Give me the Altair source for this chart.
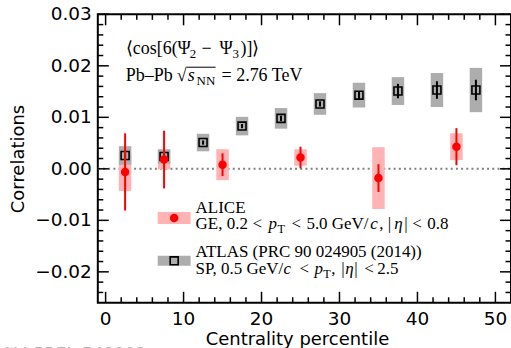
import altair as alt
import pandas as pd

# ---------------- data ----------------
alice_cent = [2.5, 7.5, 15, 25, 35, 45]
alice_val = [-0.0006, 0.0018, 0.0008, 0.0022, -0.0018, 0.0043]
alice_stat = [0.0075, 0.0056, 0.0022, 0.0021, 0.0027, 0.0036]
alice_sys = [0.0037, 0.0019, 0.0030, 0.0016, 0.0060, 0.0026]

atlas_cent = [2.5, 7.5, 12.5, 17.5, 22.5, 27.5, 32.5, 37.5, 42.5, 47.5]
atlas_val = [0.0026, 0.0024, 0.0051, 0.0083, 0.0098, 0.0126, 0.0143, 0.0151, 0.0153, 0.0153]
atlas_stat = [0.0004, 0.0004, 0.0004, 0.0004, 0.0005, 0.0005, 0.0007, 0.0014, 0.0017, 0.0020]
atlas_sys = [0.0018, 0.0014, 0.0017, 0.0018, 0.0020, 0.0021, 0.0024, 0.0027, 0.0033, 0.0043]

x_major = [0, 10, 20, 30, 40, 50]
x_labels = ["0", "10", "20", "30", "40", "50"]
x_minor = [2, 4, 6, 8, 12, 14, 16, 18, 22, 24, 26, 28, 32, 34, 36, 38, 42, 44, 46, 48]
y_major = [-0.02, -0.01, 0.0, 0.01, 0.02, 0.03]
y_labels = ["\u22120.02", "\u22120.01", "0.00", "0.01", "0.02", "0.03"]
y_minor = [-0.024, -0.022, -0.018, -0.016, -0.014, -0.012, -0.008, -0.006, -0.004,
           -0.002, 0.002, 0.004, 0.006, 0.008, 0.012, 0.014, 0.016, 0.018, 0.022,
           0.024, 0.026, 0.028]

x_title = "Centrality percentile"
y_title = "Correlations"
watermark = "ALI-PREL-548003"

# ---------------- layout / style ----------------
PL, PT = 98, 14          # plot origin in the page
W, H = 414, 289
BOX_HALF = 0.8
XS = alt.Scale(domain=[-1, 52], nice=False, zero=False)
YS = alt.Scale(domain=[-0.026, 0.03], nice=False, zero=False)
RED = "#ff0000"
PINK = "#ffb3b3"
GREY = "#adadad"
SERIF = "Liberation Serif"
SANS = "DejaVu Sans"

alice = pd.DataFrame({"c": alice_cent, "v": alice_val, "stat": alice_stat, "sys": alice_sys})
alice["x1"] = alice.c - BOX_HALF
alice["x2"] = alice.c + BOX_HALF
alice["slo"] = alice.v - alice.sys
alice["shi"] = alice.v + alice.sys
alice["elo"] = alice.v - alice.stat
alice["ehi"] = alice.v + alice.stat

atlas = pd.DataFrame({"c": atlas_cent, "v": atlas_val, "stat": atlas_stat, "sys": atlas_sys})
atlas["x1"] = atlas.c - BOX_HALF
atlas["x2"] = atlas.c + BOX_HALF
atlas["slo"] = atlas.v - atlas.sys
atlas["shi"] = atlas.v + atlas.sys
atlas["elo"] = atlas.v - atlas.stat
atlas["ehi"] = atlas.v + atlas.stat


def X(f, **kw):
    return alt.X(f, scale=XS, axis=None, **kw)


def Y(f, **kw):
    return alt.Y(f, scale=YS, axis=None, **kw)


layers = []

# zero line
layers.append(alt.Chart(pd.DataFrame({"y": [0.0]})).mark_rule(
    color="#808080", strokeWidth=2, strokeDash=[2, 3.2]).encode(
    y=Y("y:Q"), x=alt.value(0), x2=alt.value(W)))

# systematic boxes
layers.append(alt.Chart(alice).mark_rect(color=PINK, opacity=1).encode(
    x=X("x1:Q"), x2="x2:Q", y=Y("slo:Q"), y2="shi:Q"))
layers.append(alt.Chart(atlas).mark_rect(color=GREY, opacity=1).encode(
    x=X("x1:Q"), x2="x2:Q", y=Y("slo:Q"), y2="shi:Q"))

# ATLAS stat errors + markers
layers.append(alt.Chart(atlas).mark_rule(color="black", strokeWidth=2).encode(
    x=X("c:Q"), y=Y("elo:Q"), y2="ehi:Q"))
layers.append(alt.Chart(atlas).mark_point(shape="square", filled=False, color="black",
                                          strokeWidth=1.6, size=64, opacity=1).encode(
    x=X("c:Q"), y=Y("v:Q")))

# ALICE stat errors + markers
layers.append(alt.Chart(alice).mark_rule(color=RED, strokeWidth=2).encode(
    x=X("c:Q"), y=Y("elo:Q"), y2="ehi:Q"))
layers.append(alt.Chart(alice).mark_circle(color=RED, size=72, opacity=1).encode(
    x=X("c:Q"), y=Y("v:Q")))


# inward ticks on all four sides
def tick_layer(vals, axis, length):
    df = pd.DataFrame({"t": vals})
    ch = alt.Chart(df).mark_rule(color="black", strokeWidth=1.5)
    if axis == "bottom":
        return ch.encode(x=X("t:Q"), y=alt.value(H), y2=alt.value(H - length))
    if axis == "top":
        return ch.encode(x=X("t:Q"), y=alt.value(0), y2=alt.value(length))
    if axis == "left":
        return ch.encode(y=Y("t:Q"), x=alt.value(0), x2=alt.value(length))
    return ch.encode(y=Y("t:Q"), x=alt.value(W), x2=alt.value(W - length))


for side in ["bottom", "top"]:
    layers.append(tick_layer(x_major, side, 11))
    layers.append(tick_layer(x_minor, side, 5.5))
for side in ["left", "right"]:
    layers.append(tick_layer(y_major, side, 11))
    layers.append(tick_layer(y_minor, side, 5.5))

# tick labels (through the scales)
layers.append(alt.Chart(pd.DataFrame({"t": x_major, "s": x_labels})).mark_text(
    align="center", baseline="alphabetic", font=SANS, fontSize=18.5, color="black").encode(
    x=X("t:Q"), y=alt.value(325 - PT), text="s:N"))
layers.append(alt.Chart(pd.DataFrame({"t": y_major, "s": y_labels})).mark_text(
    align="right", baseline="middle", font=SANS, fontSize=18.5, color="black").encode(
    y=Y("t:Q"), x=alt.value(92 - PL), text="s:N"))

# axis titles
layers.append(alt.Chart(pd.DataFrame({"s": [x_title]})).mark_text(
    align="center", baseline="alphabetic", font=SANS, fontSize=18, color="black").encode(
    x=alt.value(298 - PL), y=alt.value(345 - PT), text="s:N"))
layers.append(alt.Chart(pd.DataFrame({"s": [y_title]})).mark_text(
    align="center", baseline="alphabetic", font=SANS, fontSize=18, color="black",
    angle=270).encode(
    x=alt.value(24 - PL), y=alt.value(159 - PT), text="s:N"))

# ---------------- legend ----------------
one = pd.DataFrame({"k": [0]})
layers.append(alt.Chart(one).mark_rect(color=PINK).encode(
    x=alt.value(158 - PL), x2=alt.value(191 - PL), y=alt.value(212 - PT), y2=alt.value(224 - PT)))
layers.append(alt.Chart(one).mark_circle(color=RED, size=72, opacity=1).encode(
    x=alt.value(174.5 - PL), y=alt.value(218 - PT)))
layers.append(alt.Chart(one).mark_rect(color=GREY).encode(
    x=alt.value(158 - PL), x2=alt.value(191 - PL), y=alt.value(256 - PT), y2=alt.value(266 - PT)))
layers.append(alt.Chart(one).mark_point(shape="square", filled=False, color="black",
                                        strokeWidth=1.6, size=64, opacity=1).encode(
    x=alt.value(174.5 - PL), y=alt.value(261 - PT)))


# text segments: (text, x, baseline y, size, italic, subscript)
def seg(text, x, y, size=17, italic=False, sub=False, font=SERIF, color="black"):
    fs = size * 0.72 if sub else size
    dy = size * 0.22 if sub else 0
    return alt.Chart(pd.DataFrame({"s": [text]})).mark_text(
        align="left", baseline="alphabetic", font=font, fontSize=fs,
        fontStyle="italic" if italic else "normal", color=color).encode(
        text="s:N", x=alt.value(x - PL), y=alt.value(y + dy - PT))


texts = [
    # legend
    ("ALICE", 196, 213, 17, False, False),
    ("GE, 0.2", 196, 229, 17, False, False),
    ("<", 253, 229, 17, False, False),
    ("p", 269, 229, 17, True, False),
    ("T", 278, 229, 17, False, True),
    ("<", 292, 229, 17, False, False),
    ("5.0 GeV/", 307, 229, 17, False, False),
    ("c", 371, 229, 17, True, False),
    (", |", 380, 229, 17, False, False),
    ("η", 395, 229, 17, True, False),
    ("|", 405, 229, 17, False, False),
    ("<", 413, 229, 17, False, False),
    ("0.8", 428, 229, 17, False, False),
    ("ATLAS (PRC 90 024905 (2014))", 196, 257, 17, False, False),
    ("SP, 0.5", 196, 274, 17, False, False),
    ("GeV/", 247, 274, 17, False, False),
    ("c", 284, 274, 17, True, False),
    ("<", 300, 274, 17, False, False),
    ("p", 315, 274, 17, True, False),
    ("T", 324, 274, 17, False, True),
    (",", 332, 274, 17, False, False),
    ("|", 342, 274, 17, False, False),
    ("η", 346, 274, 17, True, False),
    ("|", 355, 274, 17, False, False),
    ("<", 365, 274, 17, False, False),
    ("2.5", 378, 274, 17, False, False),
    # annotation
    ("⟨cos[6(Ψ", 126, 54, 18, False, False),
    ("2", 190, 54, 18, False, True),
    ("−", 202, 54, 18, False, False),
    ("Ψ", 220, 54, 18, False, False),
    ("3", 233, 54, 18, False, True),
    (")]⟩", 241, 54, 18, False, False),
    ("Pb–Pb", 126, 81, 18, False, False),
    ("√", 177, 81, 18, False, False),
    ("s", 188, 81, 18, True, False),
    ("NN", 197, 81, 18, False, True),
    ("= 2.76 TeV", 222, 81, 18, False, False),
]
for t in texts:
    layers.append(seg(*t))

# radical overline
layers.append(alt.Chart(one).mark_rule(color="black", strokeWidth=1).encode(
    x=alt.value(187 - PL), x2=alt.value(216 - PL), y=alt.value(67 - PT)))

# watermark (cut by the bottom edge)
layers.append(seg(watermark, 1.5, 360, 17, font=SANS, color="#b4b4b4"))

chart = alt.layer(*layers).properties(
    width=W, height=H,
    autosize=alt.AutoSizeParams(type="none"),
    padding={"left": PL, "top": PT, "right": 0, "bottom": 348 - PT - H},
    background="white",
).configure_view(stroke="black", strokeWidth=2)

chart.save("out.html", embed_options={"renderer": "svg", "actions": False})
